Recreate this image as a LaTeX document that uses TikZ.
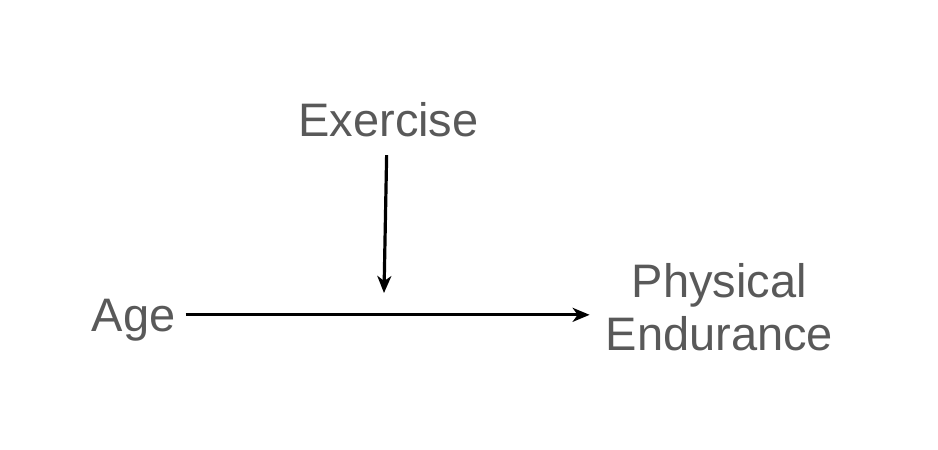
\documentclass[tikz,border=0pt]{standalone}
\usepackage{fontspec}
\setmainfont{Liberation Sans}
\usetikzlibrary{arrows.meta}
\definecolor{labelgray}{HTML}{595959}
\tikzset{
  varnode/.style={inner sep=0pt, text depth=0pt, text=labelgray, font=\fontsize{47}{53}\selectfont},
  cause/.style={black, line width=3.2pt, -{Stealth[length=17pt,width=14pt,inset=5pt]}}
}
\begin{document}
\begin{tikzpicture}[x=1pt,y=-1pt]
                \useasboundingbox (0,0) rectangle (938,450);
                \node [varnode, anchor=base] (exercise) at (388.5,136) {Exercise};
                \node [varnode, anchor=base] (age) at (133.5,331) {Age};
                \node [varnode, anchor=base, align=center] (endurance) at (719.5,350) {Physical\\Endurance};
                \coordinate (effect) at (384,293);
                \draw [cause, shorten <=10pt, shorten >=16pt] (age.east) -- (age.east -| endurance.west);
                \draw [cause, shorten <=19pt] (exercise.south) ++(-1.5,0) -- (effect);
            \end{tikzpicture}
\end{document}
